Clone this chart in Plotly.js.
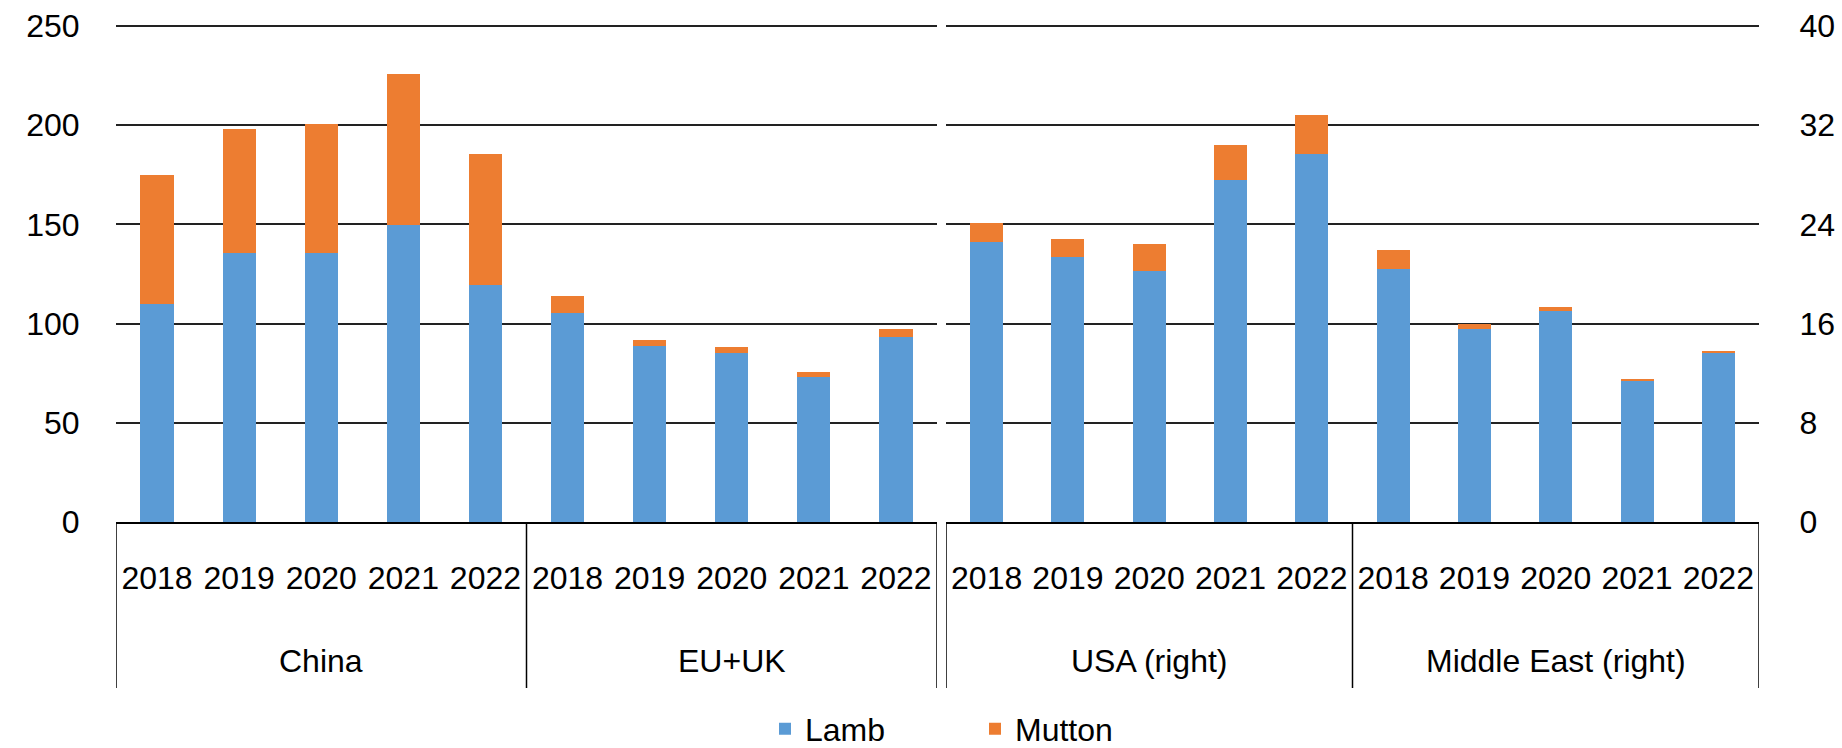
<!DOCTYPE html>
<html><head><meta charset="utf-8">
<script src="https://cdn.plot.ly/plotly-3.0.1.min.js"></script>
<style>html,body{margin:0;padding:0;background:#fff}#chart{width:1842px;height:748px}</style>
</head><body><div id="chart"></div>
<script>
const years = ['2018', '2019', '2020', '2021', '2022'];
const leftGroups = ['China', 'EU+UK'];
const rightGroups = ['USA (right)', 'Middle East (right)'];
const lambLeft = [110, 135.5, 135.5, 149.5, 119.5, 105.5, 88.5, 85, 73, 93];
const muttonLeft = [65, 62.5, 65, 76.5, 66, 8.5, 3.3, 3.4, 2.5, 4.5];
const lambRight = [22.6, 21.35, 20.25, 27.6, 29.7, 20.4, 15.6, 17.05, 11.35, 13.6];
const muttonRight = [1.5, 1.5, 2.2, 2.8, 3.1, 1.5, 0.4, 0.25, 0.2, 0.2];
const leftTicks = [0, 50, 100, 150, 200, 250];
const rightTicks = [0, 8, 16, 24, 32, 40];

const FONT = '"Liberation Sans", Arial, sans-serif';
const FS = 32;
const LAMB = '#5B9BD5', MUTTON = '#ED7D31';

const cats = gs => gs.flatMap(g => years.map(y => g + ' ' + y));
const tickTxt = gs => gs.flatMap(() => years);
const catsL = cats(leftGroups), catsR = cats(rightGroups);

const traces = [
  {type: 'bar', name: 'Lamb', x: catsL, y: lambLeft, xaxis: 'x', yaxis: 'y', marker: {color: LAMB}, legendgroup: 'lamb'},
  {type: 'bar', name: 'Mutton', x: catsL, y: muttonLeft, xaxis: 'x', yaxis: 'y', marker: {color: MUTTON}, legendgroup: 'mutton'},
  {type: 'bar', name: 'Lamb', x: catsR, y: lambRight, xaxis: 'x2', yaxis: 'y2', marker: {color: LAMB}, legendgroup: 'lamb', showlegend: false},
  {type: 'bar', name: 'Mutton', x: catsR, y: muttonRight, xaxis: 'x2', yaxis: 'y2', marker: {color: MUTTON}, legendgroup: 'mutton', showlegend: false}
];

// a little headroom above the top tick so its gridline is drawn
const headroom = 1.008;
const leftMax = leftTicks[leftTicks.length - 1] * headroom;
const rightMax = rightTicks[rightTicks.length - 1] * headroom;
const plotBottom = 522, plotH = Math.round((plotBottom - 26) * headroom), plotTop = plotBottom - plotH;
const boxBottom = -(688 - plotBottom) / plotH;
const groupLabelY = -(661 - plotBottom) / plotH;

const shapes = [], annotations = [];
[[leftGroups, 'x'], [rightGroups, 'x2']].forEach(([gs, xr]) => {
  for (let k = 0; k <= gs.length; k++) {
    const xv = k * years.length - 0.5;
    shapes.push({type: 'line', xref: xr, yref: 'paper', x0: xv, x1: xv, y0: 0, y1: boxBottom,
      line: {color: '#000', width: 1.5}});
  }
  gs.forEach((g, k) => {
    annotations.push({xref: xr, yref: 'paper', x: k * years.length + (years.length - 1) / 2, y: groupLabelY,
      text: g, showarrow: false, xanchor: 'center', yanchor: 'middle', font: {family: FONT, size: FS, color: '#000'}});
  });
});

const xBase = {type: 'category', showline: true, linecolor: '#000', linewidth: 2, showgrid: false,
  zeroline: false, range: [-0.5, 9.5], tickangle: 0, ticks: 'outside', ticklen: 27, tickcolor: 'rgba(0,0,0,0)',
  tickfont: {family: FONT, size: FS, color: '#000'}, fixedrange: true};
const yBase = {showgrid: true, gridcolor: '#222', gridwidth: 2, zeroline: false, showline: false,
  ticks: 'outside', tickcolor: 'rgba(0,0,0,0)',
  tickfont: {family: FONT, size: FS, color: '#000'}, fixedrange: true};

const layout = {
  width: 1842, height: 748,
  paper_bgcolor: '#fff', plot_bgcolor: '#fff',
  font: {family: FONT, size: FS, color: '#000'},
  margin: {l: 116, r: 83, t: plotTop, b: 748 - plotBottom, pad: 0},
  barmode: 'stack', bargap: 0.595,
  xaxis: Object.assign({}, xBase, {domain: [0, (937 - 116) / 1643], anchor: 'y', tickvals: catsL, ticktext: tickTxt(leftGroups)}),
  xaxis2: Object.assign({}, xBase, {domain: [(946 - 116) / 1643, 1], anchor: 'y2', tickvals: catsR, ticktext: tickTxt(rightGroups)}),
  yaxis: Object.assign({}, yBase, {range: [0, leftMax], tickvals: leftTicks, anchor: 'x', ticklen: 29}),
  yaxis2: Object.assign({}, yBase, {range: [0, rightMax], tickvals: rightTicks, anchor: 'x2', side: 'right', ticklen: 33}),
  showlegend: true,
  legend: {orientation: 'h', xref: 'container', yref: 'container', x: 765 / 1842, y: 1 - 729 / 748,
    xanchor: 'left', yanchor: 'middle', font: {family: FONT, size: FS, color: '#000'},
    entrywidth: 165, traceorder: 'normal', bgcolor: 'rgba(0,0,0,0)'},
  shapes: shapes, annotations: annotations
};

Plotly.newPlot('chart', traces, layout, {displayModeBar: false, staticPlot: true});
</script></body></html>
